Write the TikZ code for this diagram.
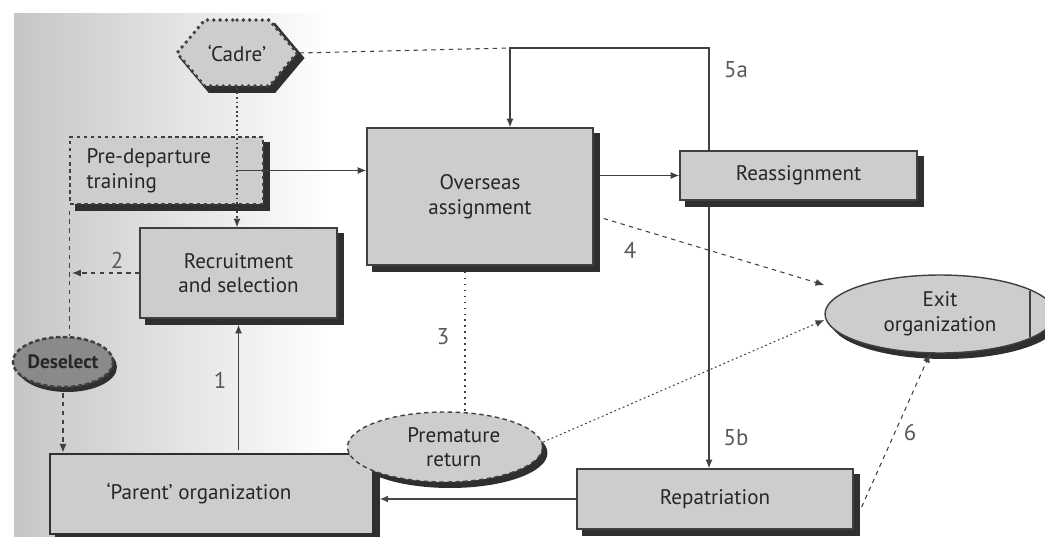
\documentclass[tikz,border=0pt]{standalone}
\usepackage{fontspec}
\setmainfont{PT Sans}
\usetikzlibrary{arrows.meta,shapes.geometric,shapes.symbols,calc,backgrounds}

\definecolor{boxfill}{HTML}{CDCDCD}
\definecolor{edge}{HTML}{404040}
\definecolor{shadowtone}{HTML}{2F2F2F}
\definecolor{darkfill}{HTML}{8A8A8A}
\definecolor{ink}{HTML}{262626}

\begin{document}
\begin{tikzpicture}[x=0.02cm,y=-0.02cm,
  font=\fontsize{12}{14}\selectfont,
  stage/.style={rectangle, draw=edge, line width=0.8pt, fill=boxfill,
    inner sep=0pt, align=center, text=ink},
  oval/.style={ellipse, draw=edge, line width=0.8pt, fill=boxfill,
    inner sep=0pt, align=center, text=ink},
  flow/.style={draw=edge, line width=0.6pt, -{Latex[length=5pt,width=4pt]}},
  dflow/.style={flow, dash pattern=on 2.5pt off 2.5pt},
  dotflow/.style={flow, dash pattern=on 1pt off 1.6pt},
  num/.style={font=\fontsize{13}{14}\selectfont, text=black!65},
  shadowfill/.style={fill=shadowtone, draw=none}
]
\useasboundingbox (0,0) rectangle (1045,537);

% stages
\node[stage, dash pattern=on 2pt off 2pt, minimum width=3.86cm, minimum height=1.34cm,
      align=left, text width=3.2cm] (pre) at (166.5,170.5) {Pre-departure\\training};
\node[stage, minimum width=3.94cm, minimum height=1.8cm] (rec) at (238.5,273) {Recruitment\\and selection};
\node[stage, minimum width=4.52cm, minimum height=2.74cm] (ovs) at (480,196.5) {Overseas\\assignment};
\node[stage, minimum width=4.74cm, minimum height=0.98cm] (rea) at (798.5,175.5) {Reassignment};
\node[stage, minimum width=5.52cm, minimum height=1.2cm] (rep) at (715,499) {Repatriation};
\node[stage, line width=1.6pt, draw=shadowtone, minimum width=6.46cm, minimum height=1.6cm] (par) at (211.5,494)
      {\hspace*{-0.5cm}`Parent' organization};

\node[signal, signal to=west and east, signal pointer angle=100, draw=edge,
      line width=2.2pt, dash pattern=on 0pt off 3.6pt, line cap=round,
      fill=boxfill, minimum width=2.4cm, minimum height=1.32cm,
      inner sep=0pt, text=ink] (cadre) at (237,53) {`Cadre'};

\node[oval, minimum width=4.6cm, minimum height=1.56cm] (exit) at (940,314) {Exit\\organization};
\node[oval, dash pattern=on 2.5pt off 2pt, minimum width=3.9cm, minimum height=1.4cm] (prem)
      at (445,447) {\hspace*{0.35cm}Premature\\\hspace*{0.35cm}return};
\node[oval, fill=darkfill, line width=1.4pt, dash pattern=on 2.5pt off 1.5pt,
      minimum width=2.0cm, minimum height=1.0cm,
      font=\fontsize{11}{12}\selectfont\bfseries] (des) at (63,362) {Deselect};

\draw[edge, line width=0.8pt] (1030,291) -- (1030,337);

% shaded band and drop shadows, behind everything
\begin{scope}[on background layer]
  \fill[left color=gray!45, right color=white] (14,14) rectangle (330,537);
  \foreach \n in {pre,rec,ovs,rea,rep,par}
    \fill[shadowfill] ([shift={(6,6)}]\n.south west) rectangle ([shift={(6,6)}]\n.north east);
  \fill[shadowfill] ([shift={(5,6)}]exit.center) ellipse [x radius=2.3cm, y radius=0.78cm];
  \fill[shadowfill] ([shift={(5,6)}]prem.center) ellipse [x radius=1.95cm, y radius=0.7cm];
  \fill[shadowfill] ([shift={(4,5)}]des.center) ellipse [x radius=1.0cm, y radius=0.5cm];
  \fill[shadowfill] ([shift={(5,5)}]cadre.west) -- ([shift={(5,5)}]cadre.north west)
    -- ([shift={(5,5)}]cadre.north east) -- ([shift={(5,5)}]cadre.east)
    -- ([shift={(5,5)}]cadre.south east) -- ([shift={(5,5)}]cadre.south west) -- cycle;
\end{scope}

% connectors
\coordinate (j) at (510,48);
\coordinate (k) at (709,48);
\coordinate (d2) at (72,273);

\draw[edge, line width=0.6pt, dash pattern=on 2.5pt off 2.5pt] (cadre.east) -- (j);
\draw[flow] (rea.north -| k) -- (k) -- (j) -- (ovs.north -| j);
\draw[dotflow] (cadre.south) -- (rec.north -| cadre.south);
\draw[flow] (pre.east -| cadre.south) -- (ovs.west |- pre.east);
\draw[flow] ([xshift=0.12cm]ovs.east |- rea.west) -- (rea.west);
\draw[dflow] ($(ovs.east)+(10,22)$) -- ([yshift=0.58cm]exit.west);
\draw[dotflow] ([yshift=0.1cm]prem.east) -- ([yshift=-0.12cm]exit.west);
\draw[edge, line width=0.6pt, dash pattern=on 1pt off 2.4pt] ([xshift=-0.3cm,yshift=-0.12cm]ovs.south) -- ([xshift=-0.3cm]ovs.south |- prem.north);
\draw[flow] ([yshift=-0.12cm]rea.south -| k) -- (rep.north -| k);
\draw[dflow] ($(rep.east)+(8,8)$) -- ([xshift=-0.2cm]exit.south);
\draw[flow, line width=1.3pt, draw=gray!55!black] (rep.west) -- ([xshift=0.1cm]par.east |- rep.west);
\draw[flow] ([yshift=0.05cm]par.north -| rec.south) -- ([yshift=-0.12cm]rec.south);
\draw[dflow] (rec.west) -- (d2);
\draw[edge, line width=0.6pt, dash pattern=on 2.5pt off 2.5pt] ([yshift=-0.12cm]pre.south west) -- (pre.south west |- des.north);
\draw[dflow] ([yshift=-0.1cm]des.south) -- (des.south |- par.north);

% route numbers
\node[num] (n1) at (220,380) {1};
\node[num] (n2) at (117,260) {2};
\node[num] (n3) at (443,337) {3};
\node[num] (n4) at (630,250) {4};
\node[num] (n5a) at (736,70) {5a};
\node[num] (n5b) at (736,438) {5b};
\node[num] (n6) at (910,433) {6};
\end{tikzpicture}
\end{document}
